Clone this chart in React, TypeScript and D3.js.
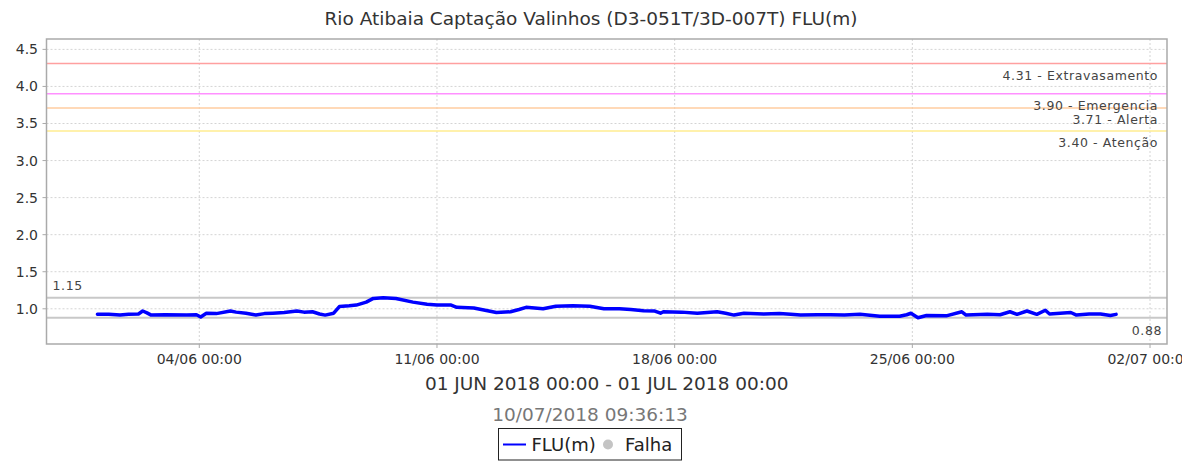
import React from "react";
import * as d3 from "d3";

const chartTitle = "Rio Atibaia Captação Valinhos (D3-051T/3D-007T) FLU(m)";
const periodLabel = "01 JUN 2018 00:00 - 01 JUL 2018 00:00";
const generatedAt = "10/07/2018 09:36:13";

const timestamps = [
  "2018-06-01 00:00", "2018-06-01 08:00", "2018-06-01 16:00", "2018-06-01 22:00",
  "2018-06-02 05:00", "2018-06-02 08:00", "2018-06-02 11:00", "2018-06-02 14:00",
  "2018-06-03 00:00", "2018-06-03 15:00", "2018-06-03 22:00", "2018-06-04 01:00",
  "2018-06-04 05:00", "2018-06-04 12:00", "2018-06-04 22:00", "2018-06-05 02:00",
  "2018-06-05 09:00", "2018-06-05 16:00", "2018-06-05 22:00", "2018-06-06 04:00",
  "2018-06-06 12:00", "2018-06-06 21:00", "2018-06-07 02:00", "2018-06-07 08:00",
  "2018-06-07 13:00", "2018-06-07 17:00", "2018-06-07 23:00", "2018-06-08 03:00",
  "2018-06-08 10:00", "2018-06-08 15:00", "2018-06-08 22:00", "2018-06-09 03:00",
  "2018-06-09 10:00", "2018-06-09 19:00", "2018-06-10 07:00", "2018-06-10 17:00",
  "2018-06-11 00:00", "2018-06-11 10:00", "2018-06-11 14:00", "2018-06-12 02:00",
  "2018-06-12 10:00", "2018-06-12 18:00", "2018-06-13 04:00", "2018-06-13 10:00",
  "2018-06-13 15:00", "2018-06-14 03:00", "2018-06-14 12:00", "2018-06-15 00:00",
  "2018-06-15 12:00", "2018-06-15 22:00", "2018-06-16 09:00", "2018-06-16 17:00",
  "2018-06-17 02:00", "2018-06-17 10:00", "2018-06-17 14:00", "2018-06-17 16:00",
  "2018-06-18 05:00", "2018-06-18 16:00", "2018-06-19 06:00", "2018-06-19 12:00",
  "2018-06-19 18:00", "2018-06-20 01:00", "2018-06-20 15:00", "2018-06-21 02:00",
  "2018-06-21 10:00", "2018-06-21 17:00", "2018-06-22 05:00", "2018-06-22 14:00",
  "2018-06-23 00:00", "2018-06-23 11:00", "2018-06-24 01:00", "2018-06-24 15:00",
  "2018-06-24 20:00", "2018-06-24 23:00", "2018-06-25 04:00", "2018-06-25 10:00",
  "2018-06-26 00:00", "2018-06-26 11:00", "2018-06-26 14:00", "2018-06-27 05:00",
  "2018-06-27 14:00", "2018-06-27 21:00", "2018-06-28 02:00", "2018-06-28 09:00",
  "2018-06-28 16:00", "2018-06-28 22:00", "2018-06-29 01:00", "2018-06-29 16:00",
  "2018-06-29 20:00", "2018-06-30 05:00", "2018-06-30 13:00", "2018-06-30 20:00",
  "2018-07-01 00:00",
];

const levels = [
  0.925, 0.925, 0.915, 0.925,
  0.93, 0.97, 0.945, 0.915,
  0.92, 0.915, 0.92, 0.89,
  0.94, 0.935, 0.97, 0.955,
  0.94, 0.915, 0.935, 0.94,
  0.95, 0.97, 0.955, 0.96,
  0.93, 0.915, 0.94, 1.03,
  1.04, 1.05, 1.09, 1.14,
  1.15, 1.14, 1.09, 1.06,
  1.05, 1.05, 1.02, 1.01,
  0.98, 0.95, 0.96, 0.99,
  1.02, 1.0, 1.035, 1.04,
  1.035, 1.0, 1.0, 0.99,
  0.975, 0.97, 0.94, 0.96,
  0.955, 0.94, 0.96, 0.94,
  0.915, 0.94, 0.93, 0.935,
  0.925, 0.915, 0.92, 0.92,
  0.915, 0.925, 0.9, 0.9,
  0.92, 0.94, 0.88, 0.91,
  0.905, 0.96, 0.915, 0.925,
  0.92, 0.96, 0.925, 0.97,
  0.925, 0.98, 0.93, 0.95,
  0.915, 0.93, 0.93, 0.91,
  0.925,
];

const thresholdValues = [4.31, 3.9, 3.71, 3.4];
const thresholdNames = ["Extravasamento", "Emergencia", "Alerta", "Atenção"];
const thresholdColors = ["#ffa0a0", "#ff90ff", "#ffcca0", "#ffec90"];

const maxValue = 1.15;
const minValue = 0.88;

const yTicks = [1.0, 1.5, 2.0, 2.5, 3.0, 3.5, 4.0, 4.5];
const xTickLabels = ["2018-06-04 00:00", "2018-06-11 00:00", "2018-06-18 00:00", "2018-06-25 00:00", "2018-07-02 00:00"];
const xDomain = ["2018-05-30 12:00", "2018-07-02 12:00"];
const yDomain = [0.525, 4.64];

const legendSeries = "FLU(m)";
const legendFail = "Falha";

const W = 1182;
const H = 462;
const FONT = "'DejaVu Sans', sans-serif";

export default function App() {
  const parse = d3.timeParse("%Y-%m-%d %H:%M");
  const fmt = d3.timeFormat("%d/%m %H:%M");
  const left = 46.5, right = 1167, top = 39, bottom = 344;

  const x = d3.scaleTime().domain(xDomain.map((s) => parse(s) as Date)).range([left, right]);
  const y = d3.scaleLinear().domain(yDomain).range([bottom, top]);

  const data = timestamps.map((t, i) => ({ t: parse(t) as Date, v: levels[i] }));
  const line = d3
    .line<{ t: Date; v: number }>()
    .x((d) => x(d.t))
    .y((d) => y(d.v));

  const xTicks = xTickLabels.map((s) => parse(s) as Date);
  const cx = (left + right) / 2;

  return (
    <svg
      width={W}
      height={H}
      style={{ position: "absolute", left: 0, top: 0, background: "#fff" }}
      fontFamily={FONT}
    >
      <rect x={0} y={0} width={W} height={H} fill="#fff" />
      <text x={W / 2} y={24.5} textAnchor="middle" fontSize={18.5} fill="#333">
        {chartTitle}
      </text>

      {/* grid */}
      {yTicks.map((v) => (
        <line key={"gy" + v} x1={left} x2={right} y1={y(v)} y2={y(v)} stroke="#d4d4d4" strokeDasharray="2,2" strokeWidth={1} />
      ))}
      {xTicks.map((d, i) => (
        <line key={"gx" + i} x1={x(d)} x2={x(d)} y1={top} y2={bottom} stroke="#d4d4d4" strokeDasharray="2,2" strokeWidth={1} />
      ))}

      {/* thresholds */}
      {thresholdValues.map((v, i) => (
        <line key={"th" + i} x1={left} x2={right} y1={y(v)} y2={y(v)} stroke={thresholdColors[i]} strokeWidth={1.5} />
      ))}
      {thresholdValues.map((v, i) => (
        <text key={"tl" + i} x={right - 9} y={y(v) + 16.5} textAnchor="end" fontSize={12.5} letterSpacing={0.6} fill="#444">
          {v.toFixed(2) + " - " + thresholdNames[i]}
        </text>
      ))}

      {/* max / min markers */}
      <line x1={left} x2={right} y1={y(maxValue)} y2={y(maxValue)} stroke="#c8c8c8" strokeWidth={2} />
      <line x1={left} x2={right} y1={y(minValue)} y2={y(minValue)} stroke="#c8c8c8" strokeWidth={2} />
      <text x={52.5} y={y(maxValue) - 7.5} fontSize={12.5} letterSpacing={0.6} fill="#444">
        {maxValue.toFixed(2)}
      </text>
      <text x={1162} y={y(minValue) + 17} textAnchor="end" fontSize={12.5} letterSpacing={0.6} fill="#444">
        {minValue.toFixed(2)}
      </text>

      {/* series */}
      <path d={line(data) || ""} fill="none" stroke="#0000ff" strokeWidth={3.5} strokeLinejoin="round" strokeLinecap="round" />

      {/* frame */}
      <rect x={left} y={top} width={right - left} height={bottom - top} fill="none" stroke="#aaaaaa" strokeWidth={1.5} />

      {/* y axis */}
      {yTicks.map((v) => (
        <g key={"yt" + v}>
          <line x1={left - 4} x2={left} y1={y(v)} y2={y(v)} stroke="#aaaaaa" />
          <text x={38} y={y(v) + 5} textAnchor="end" fontSize={14} fill="#333">
            {v.toFixed(1)}
          </text>
        </g>
      ))}

      {/* x axis */}
      {xTicks.map((d, i) => (
        <g key={"xt" + i}>
          <line x1={x(d)} x2={x(d)} y1={bottom} y2={bottom + 4} stroke="#aaaaaa" />
          <text x={x(d)} y={364} textAnchor="middle" fontSize={14} fill="#333">
            {fmt(d)}
          </text>
        </g>
      ))}

      <text x={cx} y={390} textAnchor="middle" fontSize={18.5} fill="#333">
        {periodLabel}
      </text>
      <text x={W / 2 - 1} y={421} textAnchor="middle" fontSize={18.5} fill="#777">
        {generatedAt}
      </text>

      {/* legend */}
      <rect x={498.5} y={428.5} width={183} height={31.5} fill="#fff" stroke="#222" strokeWidth={1} />
      <line x1={503} x2={526} y1={444.5} y2={444.5} stroke="#0000ff" strokeWidth={2} />
      <text x={531.5} y={451} fontSize={18} fill="#222">
        {legendSeries}
      </text>
      <circle cx={608} cy={444.5} r={5} fill="#c4c4c4" />
      <text x={625} y={451} fontSize={18} fill="#222">
        {legendFail}
      </text>
    </svg>
  );
}
